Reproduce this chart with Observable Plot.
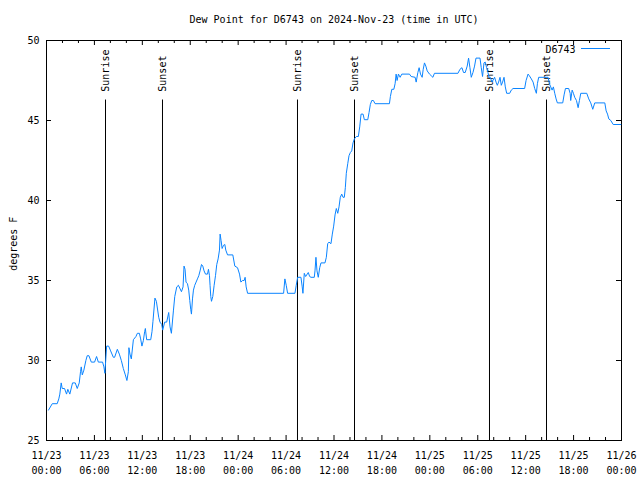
<!DOCTYPE html>
<html><head><meta charset="utf-8">
<script src="https://cdn.jsdelivr.net/npm/d3@7"></script>
<script src="https://cdn.jsdelivr.net/npm/@observablehq/plot@0.6"></script>
<style>body{margin:0;background:#fff} #chart svg{display:block}</style>
</head><body><div id="chart"></div>
<script>
const title = "Dew Point for D6743 on 2024-Nov-23 (time in UTC)";
const seriesName = "D6743";
const yLabel = "degrees F";
const startUTC = "2024-11-23T00:00:00Z";
const spanHours = 72;
// hours after start (UTC)
const hours = [0.25,0.72,1.34,1.54,1.67,1.84,1.97,2.26,2.51,2.67,2.92,3.26,3.6,3.85,4.1,4.26,4.35,4.48,4.68,4.93,5.1,5.31,5.61,6.02,6.27,6.49,7.02,7.19,7.31,7.53,7.78,8.03,8.37,8.53,8.87,9.12,9.37,9.62,9.87,10.07,10.25,10.32,10.45,10.62,10.88,11.2,11.38,11.63,11.79,11.95,12.13,12.29,12.38,12.54,13.05,13.21,13.33,13.58,13.76,14.05,14.21,14.43,14.55,14.8,15.05,15.3,15.47,15.64,15.89,16.06,16.31,16.52,16.9,17.1,17.22,17.35,17.47,17.65,17.81,17.94,18.06,18.15,18.28,18.4,18.56,18.73,18.9,19.07,19.23,19.41,19.57,19.73,19.91,20.16,20.28,20.41,20.48,20.57,20.66,20.82,20.99,21.16,21.32,21.49,21.66,21.74,21.86,21.99,22.17,22.33,22.45,22.67,23.33,23.58,23.92,24.17,24.34,24.55,24.75,24.87,25.0,25.18,29.69,29.85,30.02,30.19,31.11,31.27,31.45,31.86,32.02,32.11,32.28,32.45,32.78,32.95,33.12,33.53,33.62,33.74,33.87,34.03,34.21,34.37,34.87,35.04,35.21,35.37,35.62,35.79,35.96,36.13,36.29,36.47,36.63,36.79,36.97,37.13,37.29,37.42,37.54,37.72,37.88,38.05,38.22,38.38,38.55,38.8,39.05,39.22,39.39,39.64,39.8,40.23,40.39,40.55,40.73,40.93,41.14,42.94,43.06,43.24,43.49,43.65,43.78,43.9,44.07,44.28,44.49,45.45,45.66,46.16,46.29,46.5,46.66,46.83,47.04,47.17,47.33,47.5,47.67,47.96,48.17,48.38,48.58,51.52,51.77,52.02,52.22,52.43,52.68,52.85,53.02,53.19,53.4,53.6,53.78,54.28,54.44,54.6,54.78,54.94,55.11,55.28,55.41,55.57,55.78,56.11,56.29,56.45,56.61,56.79,56.95,57.11,57.29,57.45,57.62,58.0,58.2,58.42,59.87,60.05,60.3,60.46,60.71,60.93,61.13,61.34,61.47,61.63,62.81,62.97,63.14,63.31,63.47,63.64,63.81,63.97,64.64,64.81,64.98,65.39,65.57,65.64,65.82,65.98,66.14,66.36,66.57,66.73,66.9,67.65,67.9,68.15,68.4,68.65,69.91,70.08,70.25,70.41,70.66,70.96,71.91];
const dewF = [26.9,27.3,27.3,27.6,27.9,28.6,28.25,28.25,27.9,28.2,27.9,28.6,28.6,28.25,28.6,29.3,29.6,29.1,29.4,30.0,30.3,30.3,29.9,29.9,30.25,29.9,29.9,29.6,29.2,30.9,30.9,30.6,30.2,30.2,30.7,30.4,30.0,29.5,29.1,28.75,29.3,30.8,30.4,30.1,31.3,31.5,31.7,31.7,31.35,30.9,31.25,31.8,32.0,31.3,31.3,31.8,32.45,33.9,33.7,32.7,32.4,32.25,31.9,32.4,32.4,33.0,32.1,31.7,33.1,34.0,34.6,34.7,34.3,34.6,35.9,35.7,34.9,34.8,34.4,33.75,33.2,32.9,33.85,34.4,34.7,34.9,35.1,35.3,35.6,36.0,35.9,35.6,35.4,35.4,35.7,35.3,34.7,34.0,33.7,34.0,34.7,35.3,36.0,36.35,36.9,37.9,37.5,37.0,37.2,37.25,36.9,36.6,36.6,35.9,35.8,35.4,34.9,35.0,35.0,35.2,34.6,34.2,34.2,35.1,34.7,34.2,34.2,34.7,35.2,35.2,34.6,34.2,35.45,35.25,35.5,35.25,35.2,35.2,35.6,36.45,35.6,35.2,35.8,36.1,36.1,36.45,37.3,37.4,37.3,37.9,38.4,39.1,39.5,39.2,39.6,40.2,40.4,40.2,40.2,40.8,41.7,42.3,42.8,43.0,43.1,43.6,43.85,44.0,44.0,44.6,45.4,45.4,45.05,45.05,45.5,46.0,46.25,46.25,46.05,46.05,46.5,46.95,46.95,47.3,47.9,47.5,47.9,47.7,47.9,47.9,47.75,47.7,47.4,48.0,48.3,47.9,47.7,48.2,48.6,48.4,48.1,47.9,47.8,47.7,47.95,47.95,48.2,48.3,48.0,48.0,48.4,48.9,48.3,47.7,48.0,48.4,48.9,48.9,48.3,47.75,48.6,48.65,48.3,48.0,47.7,47.7,47.4,47.7,47.4,47.2,47.4,47.7,47.2,47.4,47.7,47.1,46.7,46.7,46.9,47.0,47.0,47.5,47.9,47.8,47.6,47.4,47.0,46.7,47.3,47.7,47.7,47.3,47.1,46.9,47.1,46.7,46.35,46.1,46.1,46.6,47.0,47.0,46.7,46.25,46.9,46.7,46.45,46.25,45.8,46.25,46.7,46.7,46.35,46.1,45.7,46.1,46.1,45.6,45.4,45.1,45.0,44.75,44.75];
const sunHours = [7.388, 14.525, 31.429, 38.567, 55.471, 62.609];
const sunLabels = ["Sunrise", "Sunset", "Sunrise", "Sunset", "Sunrise", "Sunset"];
const yTicks = [25, 30, 35, 40, 45, 50];
const yDomain = [25, 50];
const sunLineTop = 46.28;
const sunLabelBase = 46.8;
const yLabelCenter = 37.3;

const lineColor = "#0a84ff";
const t0 = new Date(startUTC);
const toDate = h => new Date(t0.getTime() + h * 3600e3);
const t1 = toDate(spanHours);
const data = hours.map((h, i) => ({t: toDate(h), v: dewF[i]}));
const sun = sunHours.map((h, i) => ({t: toDate(h), label: sunLabels[i]}));
const major = d3.utcHour.every(6).range(t0, new Date(t1.getTime() + 1));
const minor = d3.utcHour.every(2).range(t0, t1).filter(d => d.getUTCHours() % 6 !== 0);
const fmt = d => d3.utcFormat("%m/%d")(d) + "\n" + d3.utcFormat("%H:%M")(d);

const FH = 400, FW = 575;
const plot = Plot.plot({
  width: 640, height: 480,
  marginLeft: 46, marginRight: 19, marginTop: 40, marginBottom: 40,
  style: {fontFamily: "'DejaVu Sans Mono', monospace", fontSize: "10px", color: "#000", background: "#fff"},
  x: {type: "utc", domain: [t0, t1]},
  y: {domain: yDomain},
  marks: [
    Plot.frame({stroke: "#000"}),
    Plot.tickX(major, {x: d => d, insetTop: FH - 5, stroke: "#000"}),
    Plot.tickX(major, {x: d => d, insetBottom: FH - 5, stroke: "#000"}),
    Plot.tickX(minor, {x: d => d, insetTop: FH - 3, stroke: "#000"}),
    Plot.tickX(minor, {x: d => d, insetBottom: FH - 3, stroke: "#000"}),
    Plot.tickY(yTicks, {y: d => d, insetRight: FW - 5, stroke: "#000"}),
    Plot.tickY(yTicks, {y: d => d, insetLeft: FW - 5, stroke: "#000"}),
    Plot.axisX(major, {tickSize: 0, tickPadding: 8, tickFormat: fmt, lineHeight: 1.5, label: null}),
    Plot.axisY(yTicks, {tickSize: 0, tickPadding: 7, label: null}),
    Plot.text([yLabel], {frameAnchor: "left", y: () => yLabelCenter, text: d => d, rotate: -90, textAnchor: "middle", lineAnchor: "middle", dx: -33}),
    Plot.text([title], {frameAnchor: "top", text: d => d, lineAnchor: "middle", dy: -21}),
    Plot.ruleX(sun, {x: "t", y1: yDomain[0], y2: sunLineTop, stroke: "#000", strokeWidth: 1}),
    Plot.text(sun, {x: "t", y: sunLabelBase, text: "label", rotate: -90, textAnchor: "start", fill: "#000"}),
    Plot.text([seriesName], {frameAnchor: "top-right", text: d => d, textAnchor: "end", lineAnchor: "middle", dx: -46, dy: 9}),
    Plot.line(data, {x: "t", y: "v", stroke: lineColor, strokeWidth: 1})
  ]
});
const svg = d3.select(plot);
svg.append("line").attr("x1", 581).attr("x2", 610).attr("y1", 48.5).attr("y2", 48.5)
  .attr("stroke", lineColor).attr("stroke-width", 1);
document.getElementById("chart").append(plot);
</script></body></html>
